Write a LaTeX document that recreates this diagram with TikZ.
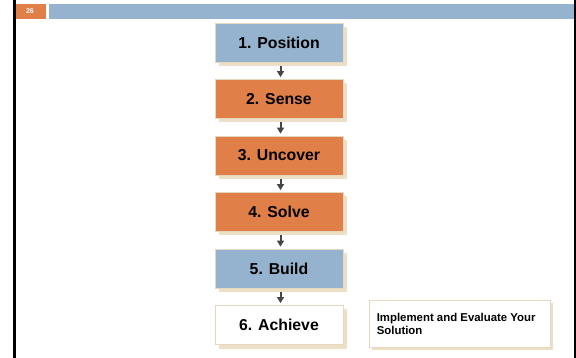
\documentclass[tikz,border=0pt]{standalone}
\usepackage{fontspec}
\setmainfont{Liberation Sans}
\usetikzlibrary{shadows,arrows.meta}
\definecolor{hblue}{RGB}{149,179,207}
\definecolor{horange}{RGB}{224,128,72}
\definecolor{hbeige}{RGB}{236,223,197}
\definecolor{hborder}{RGB}{228,216,192}
\definecolor{harrow}{RGB}{70,70,70}
\tikzset{
  stepbox/.style={draw=hborder, line width=0.8pt, minimum width=128pt, minimum height=39pt, inner sep=0pt,
    font=\fontsize{15.8}{18}\selectfont\bfseries,
    drop shadow={shadow xshift=4pt, shadow yshift=-4pt, fill=hbeige, opacity=1}},
  bluebox/.style={stepbox, fill=hblue},
  orangebox/.style={stepbox, fill=horange},
  whitebox/.style={stepbox, fill=white},
  notebox/.style={draw=hborder, line width=0.8pt, fill=white, minimum width=181pt, minimum height=47pt,
    inner sep=0pt, drop shadow={shadow xshift=3pt, shadow yshift=-3pt, fill=hbeige, opacity=1}},
  arr/.style={draw=harrow, line width=2pt, -{Triangle[length=6pt,width=7pt]}},
}
\begin{document}
\begin{tikzpicture}[x=1pt,y=-1pt]
\useasboundingbox (0,0) rectangle (576,358);
\fill[white] (0,0) rectangle (576,358);
% side bars
\fill[black] (13,0) rectangle (16,358);
\fill[black] (574,0) rectangle (576,358);
% header
\fill[horange] (16,4) rectangle (46,19);
\node[text=white, font=\fontsize{7}{8}\selectfont\bfseries, inner sep=0pt] (pg) at (30,11.5) {26};
\fill[hblue] (49,4) rectangle (574,19);
% steps
\node[bluebox] (s1) at (279,42.5) {1. Position};
\node[orangebox] (s2) at (279,99) {2. Sense};
\node[orangebox] (s3) at (279,155.5) {3. Uncover};
\node[orangebox] (s4) at (279,212) {4. Solve};
\node[bluebox] (s5) at (279,268.5) {5. Build};
\node[whitebox] (s6) at (279,325) {6. Achieve};
\foreach \a/\b in {s1/s2,s2/s3,s3/s4,s4/s5,s5/s6}
  \draw[arr] ([xshift=1.5pt,yshift=-3.5pt]\a.south) -- ([xshift=1.5pt,yshift=2pt]\b.north);
% note
\node[notebox] (note) at (459.5,323.5) {};
\node[anchor=west, align=left, inner sep=0pt, font=\fontsize{11.4}{13.2}\selectfont\bfseries] (notetext)
  at ([xshift=8pt,yshift=-0.5pt]note.west) {Implement and Evaluate Your\\Solution};
\end{tikzpicture}
\end{document}
